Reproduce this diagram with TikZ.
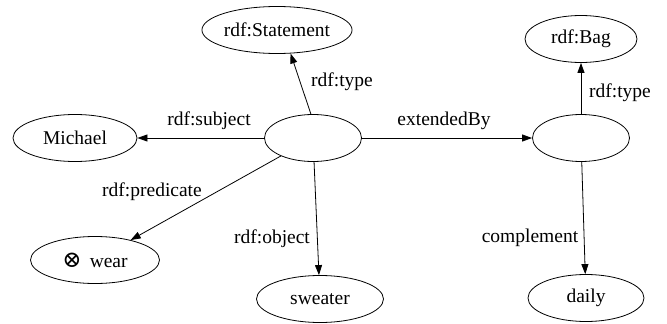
\documentclass[tikz,border=0pt]{standalone}
\usepackage{fontspec}
\setmainfont{Liberation Serif}
\newfontfamily\symfont{DejaVu Serif}
\usetikzlibrary{shapes.geometric,arrows.meta}

\begin{document}
\begin{tikzpicture}[x=1pt,y=-1pt,font=\fontsize{19.5}{22}\selectfont,
  res/.style={draw, ellipse, inner sep=0pt, minimum height=47pt, line width=0.8pt},
  rel/.style={-{Triangle[length=10pt,width=7pt]}, line width=0.8pt}]
\useasboundingbox (0,0) rectangle (667,324);
% resources
\node[res, minimum width=150pt] (stmt) at (277,30) {rdf:Statement};
\node[res, minimum width=124pt] (michael) at (75,138) {Michael};
\node[res, minimum width=97pt] (reif) at (313,138) {};
\node[res, minimum width=129pt] (wear) at (95,260) {{\symfont\fontsize{23}{24}\selectfont ⊗}\, wear};
\node[res, minimum width=127pt] (sweater) at (320,299) {sweater};
\node[res, minimum width=112pt] (bag) at (581,39) {rdf:Bag};
\node[res, minimum width=97pt] (ext) at (581,138) {};
\node[res, minimum width=116pt] (daily) at (586,298) {daily};
% properties
\draw[rel] (reif.95) -- (stmt.-60);
\draw[rel] (reif) -- (michael);
\draw[rel] (reif) -- (wear);
\draw[rel] (reif) -- (sweater);
\draw[rel] (reif) -- (ext);
\draw[rel] (ext) -- (bag);
\draw[rel] (ext) -- (daily);
\node (ltype) at (342,82) {rdf:type};
\node (lsubj) at (209,121) {rdf:subject};
\node (lpred) at (152,192) {rdf:predicate};
\node (lobj) at (272,239) {rdf:object};
\node (lext) at (444,121) {extendedBy};
\node (lbag) at (620,93) {rdf:type};
\node (lcomp) at (530,238) {complement};
\end{tikzpicture}
\end{document}
